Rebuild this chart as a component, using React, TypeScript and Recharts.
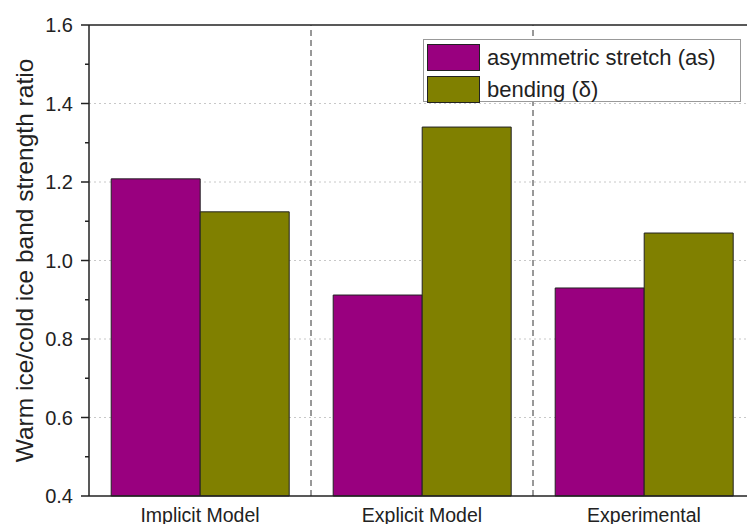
import React from 'react';
import {
  BarChart,
  Bar,
  XAxis,
  YAxis,
  CartesianGrid,
  ReferenceLine,
  Label,
} from 'recharts';

const categories = ['Implicit Model', 'Explicit Model', 'Experimental'];
const asymmetricStretch = [1.208, 0.912, 0.93];
const bending = [1.124, 1.34, 1.07];
const yTicks = [0.4, 0.5, 0.6, 0.7, 0.8, 0.9, 1.0, 1.1, 1.2, 1.3, 1.4, 1.5, 1.6];
const gridValues = [0.6, 0.8, 1.0, 1.2, 1.4];
const separators = [1, 2];

const PURPLE = '#99007f';
const OLIVE = '#808000';
const FONT = 'Arial, "Liberation Sans", sans-serif';

const data = categories.map((category, i) => ({
  category,
  pos: i + 0.5,
  as: asymmetricStretch[i],
  bend: bending[i],
}));

// major ticks get a label and a long tick, minor ones a short tick
const YTick = (props: any) => {
  const { x, y, payload } = props;
  const major = Math.round(payload.value * 10) % 2 === 0;
  return (
    <g>
      <line x1={x - (major ? 8 : 4)} x2={x} y1={y} y2={y} stroke="#222" strokeWidth={1.5} />
      {major && (
        <text x={x - 16} y={y} dy="0.35em" textAnchor="end" fontSize={20} fill="#222" fontFamily={FONT}>
          {payload.value.toFixed(1)}
        </text>
      )}
    </g>
  );
};

const legendItems = [
  { name: 'asymmetric stretch (as)', color: PURPLE },
  { name: 'bending (δ)', color: OLIVE },
];

export default function App() {
  return (
    <div
      style={{
        position: 'fixed',
        left: 0,
        top: 0,
        width: 747,
        height: 524,
        overflow: 'hidden',
        background: '#fff',
      }}
    >
      <BarChart
        width={780}
        height={524}
        data={data}
        margin={{ top: 25, right: 25, bottom: 0, left: 0 }}
        barCategoryGap="10%"
        barGap={0}
      >
        <CartesianGrid
          vertical={false}
          horizontalValues={gridValues}
          stroke="#c8c8c8"
          strokeDasharray="2 3"
        />
        <XAxis
          dataKey="category"
          height={28}
          tickLine={false}
          tickSize={0}
          tickMargin={12}
          axisLine={{ stroke: '#222', strokeWidth: 1.5 }}
          tick={{ fontSize: 19.5, fill: '#222', fontFamily: FONT }}
        />
        <XAxis xAxisId="num" type="number" dataKey="pos" domain={[0, 3]} hide />
        <YAxis
          domain={[0.4, 1.6]}
          ticks={yTicks}
          interval={0}
          width={89}
          tickSize={0}
          tickMargin={0}
          tickLine={false}
          tick={<YTick />}
          axisLine={{ stroke: '#222', strokeWidth: 1.5 }}
        >
          <Label
            content={({ viewBox }: any) => {
              const cy = viewBox.y + viewBox.height / 2;
              return (
                <text
                  x={33}
                  y={cy}
                  transform={`rotate(-90 33 ${cy})`}
                  textAnchor="middle"
                  fontSize={24.5}
                  fill="#222"
                  fontFamily={FONT}
                >
                  Warm ice/cold ice band strength ratio
                </text>
              );
            }}
          />
        </YAxis>
        <ReferenceLine y={1.6} stroke="#222" strokeWidth={1.5} />
        {separators.map((s) => (
          <ReferenceLine key={s} xAxisId="num" x={s} stroke="#333" strokeDasharray="6 4" />
        ))}
        <Bar dataKey="as" fill={PURPLE} stroke="#222" strokeWidth={1} isAnimationActive={false} />
        <Bar dataKey="bend" fill={OLIVE} stroke="#222" strokeWidth={1} isAnimationActive={false} />
      </BarChart>
      <div
        style={{
          position: 'absolute',
          left: 423,
          top: 39,
          width: 318,
          height: 63,
          border: '1px solid #999',
          background: '#fff',
          fontFamily: FONT,
          fontSize: 22,
          color: '#222',
          boxSizing: 'border-box',
          padding: '3px 0 0 3px',
        }}
      >
        {legendItems.map((item) => (
          <div key={item.name} style={{ display: 'flex', alignItems: 'center', height: 28, marginBottom: 4 }}>
            <div
              style={{
                width: 53,
                height: 27,
                background: item.color,
                border: '1px solid #222',
                boxSizing: 'border-box',
                marginRight: 7,
              }}
            />
            <span style={{ lineHeight: '27px' }}>{item.name}</span>
          </div>
        ))}
      </div>
    </div>
  );
}
